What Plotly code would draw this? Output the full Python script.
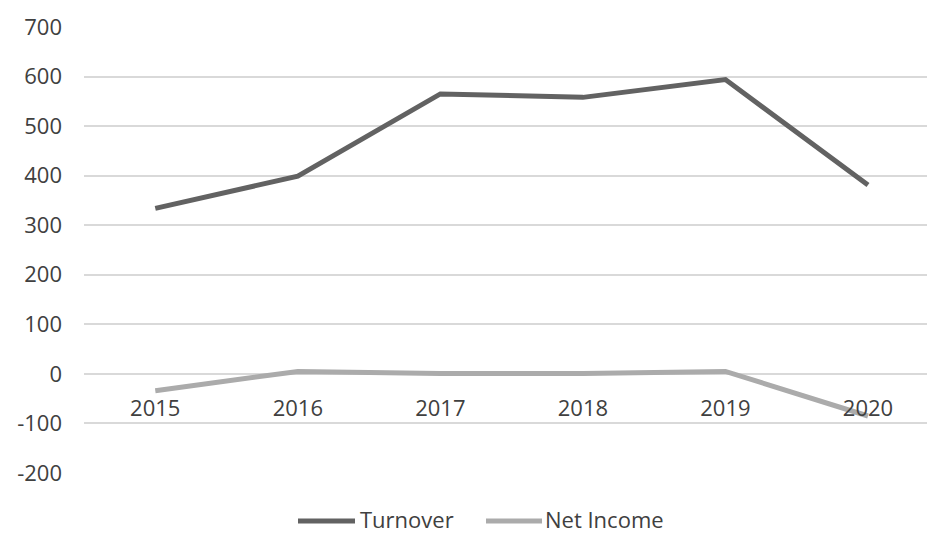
import plotly.graph_objects as go

# Annual figures
years = ["2015", "2016", "2017", "2018", "2019", "2020"]
turnover = [334, 399, 565, 558, 594, 381]
net_income = [-34, 5, 1, 1, 5, -85]
y_ticks = [-200, -100, 0, 100, 200, 300, 400, 500, 600, 700]
y_labels = [str(v) for v in y_ticks]  # plain hyphen for negatives

FONT = "Open Sans"
TEXT = "#404040"
GRID = "#d9d9d9"
SERIES = [
    ("Turnover", turnover, "#626262"),
    ("Net Income", net_income, "#ababab"),
]

# plot area in pixels: left 84, right 927, top 27, bottom 473
L, W, B, H = 84, 843, 473, 446


def px_x(p):
    return (p - L) / W


def px_y(p):
    return (B - p) / H


fig = go.Figure()
for name, values, color in SERIES:
    fig.add_trace(go.Scatter(
        x=years, y=values, name=name, mode="lines",
        line=dict(color=color, width=5),
    ))

# legend row below the plot: key line followed by series name
legend_keys = [(298, 355, 360), (486, 542, 545)]
for (name, _, color), (k0, k1, tx) in zip(SERIES, legend_keys):
    fig.add_shape(
        type="line", xref="paper", yref="paper",
        x0=px_x(k0), x1=px_x(k1), y0=px_y(521), y1=px_y(521),
        line=dict(color=color, width=5),
    )
    fig.add_annotation(
        text=name, xref="paper", yref="paper",
        x=px_x(tx - 2), y=px_y(519), xanchor="left", yanchor="middle",
        showarrow=False, font=dict(family=FONT, size=22, color=TEXT),
    )

fig.update_layout(
    width=927, height=535,
    margin=dict(l=L, r=927 - L - W, t=27, b=535 - B, autoexpand=False),
    paper_bgcolor="white", plot_bgcolor="white",
    font=dict(family=FONT, size=22, color=TEXT),
    showlegend=False,
    xaxis=dict(
        type="category", range=[-0.5, 5.414],
        showgrid=False, showline=False, zeroline=False,
        anchor="free", position=2 / 9,
        ticks="", ticklabelstandoff=19,
        tickfont=dict(family=FONT, size=22, color=TEXT),
    ),
    yaxis=dict(
        range=[-200, 700], tickvals=y_ticks, ticktext=y_labels,
        showgrid=True, gridcolor=GRID, gridwidth=2,
        zeroline=False, showline=False,
        ticks="", ticklabelstandoff=21,
        tickfont=dict(family=FONT, size=22, color=TEXT),
    ),
)

fig.write_html("out.html")
